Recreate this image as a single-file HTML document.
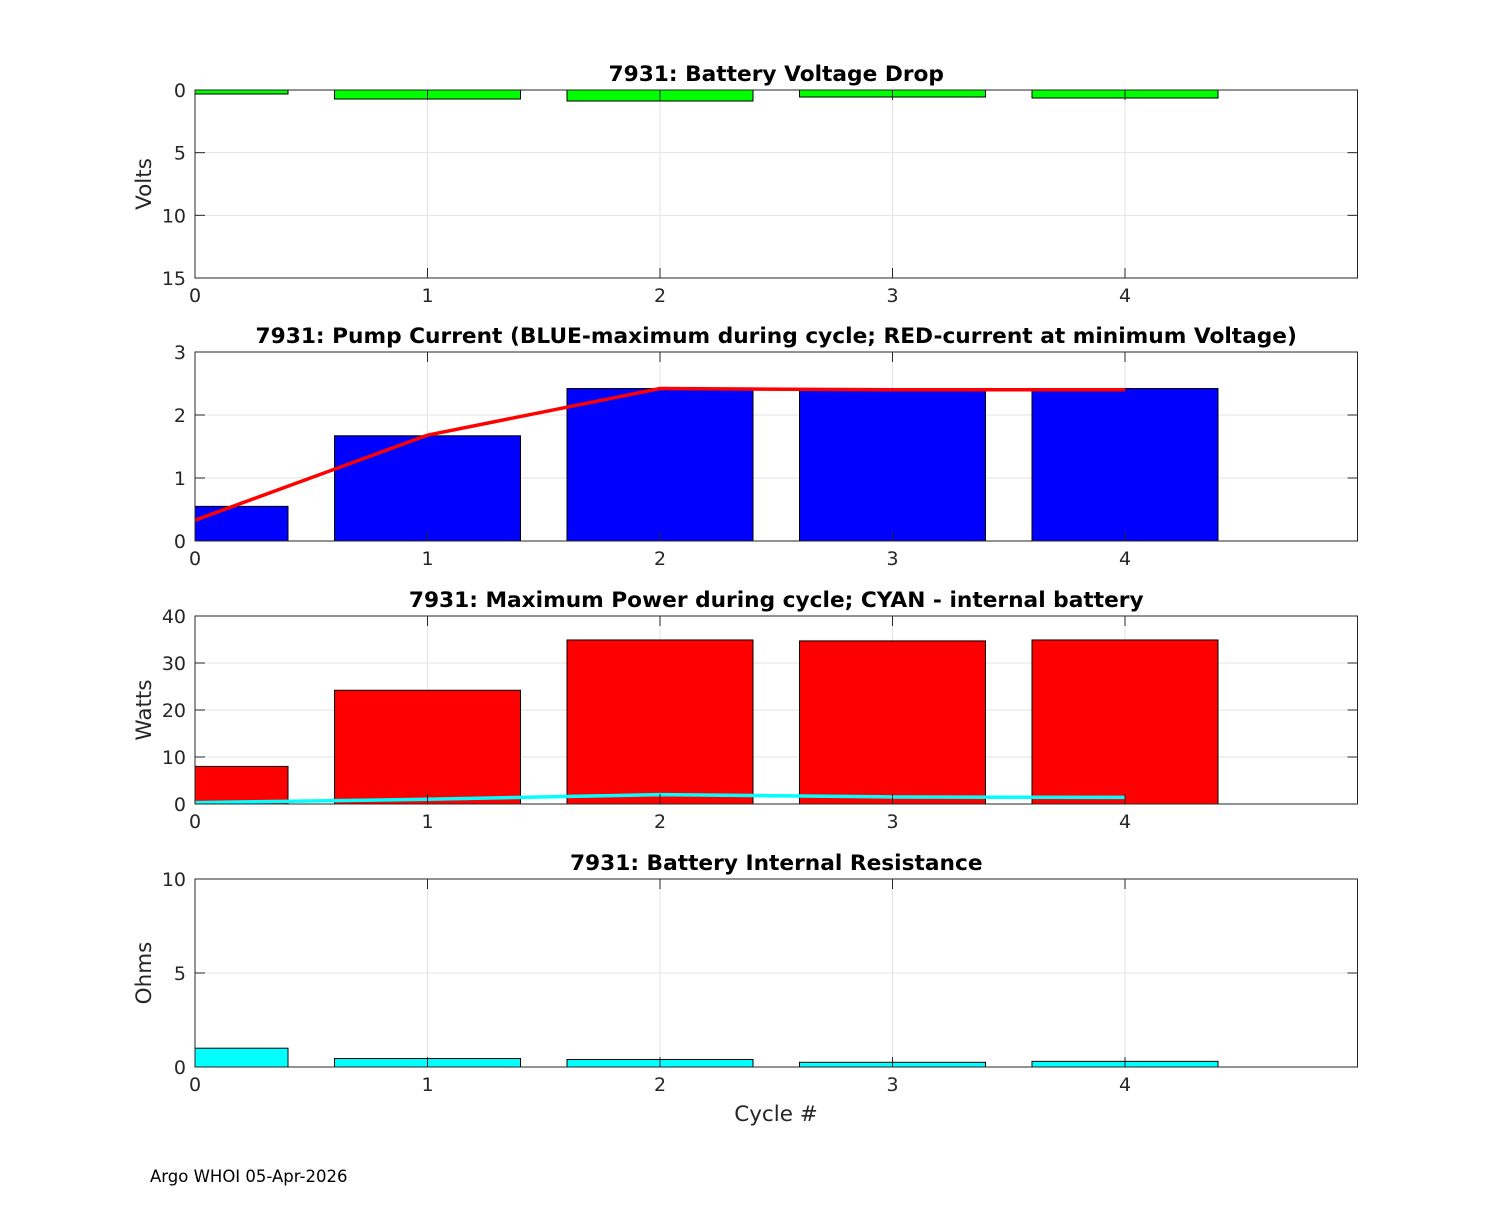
<!DOCTYPE html>
<html><head><meta charset="utf-8"><style>
body{margin:0;background:#fff;width:1500px;height:1200px;overflow:hidden}
text{font-family:"DejaVu Sans","Liberation Sans",sans-serif}
</style></head><body>
<svg id="fig" width="1500" height="1200" xmlns="http://www.w3.org/2000/svg">
<rect width="1500" height="1200" fill="#fff"/>
</svg>
<script>
const cycles=[0,1,2,3,4];
const voltDrop=[0.32,0.72,0.88,0.56,0.64];
const pumpMax=[0.55,1.67,2.42,2.4,2.42];
const pumpAtMinV=[0.33,1.68,2.42,2.4,2.4];
const maxPower=[8.0,24.2,34.9,34.7,34.9];
const internalPower=[0.3,1.0,2.0,1.5,1.4];
const resistance=[1.0,0.45,0.4,0.25,0.3];
const xTicks=[0,1,2,3,4];
const voltTicks=[0,5,10,15];
const pumpTicks=[0,1,2,3];
const powerTicks=[0,10,20,30,40];
const ohmTicks=[0,5,10];

const NS="http://www.w3.org/2000/svg";
const svg=document.getElementById('fig');
function el(tag,attrs,parent){const e=document.createElementNS(NS,tag);for(const k in attrs)e.setAttribute(k,attrs[k]);(parent||svg).appendChild(e);return e;}
const X0=195,X1=1357.5,XMIN=0,XMAX=5;
const sx=v=>X0+(v-XMIN)/(XMAX-XMIN)*(X1-X0);

function panel(o){
  const g=el('g',{});
  
  
  const sy=v=>o.rev? o.top+(v-o.min)/(o.max-o.min)*(o.bot-o.top) : o.bot-(v-o.min)/(o.max-o.min)*(o.bot-o.top);
  xTicks.forEach(t=>{const l=el('line',{x1:sx(t),x2:sx(t),y1:o.top,y2:o.bot,stroke:'#e3e3e3','stroke-width':1},g);});
  o.ticks.forEach(t=>{const l=el('line',{x1:X0,x2:X1,y1:sy(t),y2:sy(t),stroke:'#e3e3e3','stroke-width':1},g);});
  const clip=el('clipPath',{id:'c'+o.name},g);el('rect',{x:X0,y:o.top,width:X1-X0,height:o.bot-o.top},clip);
  const bg=el('g',{'clip-path':'url(#c'+o.name+')'},g);
  cycles.forEach((c,i)=>{
    const base=sy(0),v=sy(o.vals[i]);
    const r=el('rect',{x:sx(c-0.4),width:sx(c+0.4)-sx(c-0.4),y:Math.min(base,v),height:Math.abs(v-base),fill:o.color,stroke:'#000','stroke-width':1},bg);
    
    
  });
  if(o.line){
    const p=el('polyline',{points:cycles.map((c,i)=>sx(c)+','+sy(o.line[i])).join(' '),fill:'none',stroke:o.lineColor,'stroke-width':3.5},bg);
    
    
  }
  el('rect',{x:X0,y:o.top,width:X1-X0,height:o.bot-o.top,fill:'none',stroke:'#262626','stroke-width':1},g);
  xTicks.forEach(t=>{
    el('line',{x1:sx(t),x2:sx(t),y1:o.bot,y2:o.bot-10,stroke:'#262626'},g);
    el('line',{x1:sx(t),x2:sx(t),y1:o.top,y2:o.top+10,stroke:'#262626'},g);
    const tx=el('text',{x:sx(t),y:o.bot+24,'text-anchor':'middle','font-size':19,fill:'#262626'},g);tx.textContent=t;
    
  });
  o.ticks.forEach(t=>{
    el('line',{x1:X0,x2:X0+10,y1:sy(t),y2:sy(t),stroke:'#262626'},g);
    el('line',{x1:X1,x2:X1-10,y1:sy(t),y2:sy(t),stroke:'#262626'},g);
    const tx=el('text',{x:X0-9,y:sy(t)+7,'text-anchor':'end','font-size':19,fill:'#262626'},g);tx.textContent=t;
    
  });
  const ti=el('text',{x:(X0+X1)/2,y:o.top-9,'text-anchor':'middle','font-size':21.7,'font-weight':'bold',fill:'#000'},g);ti.textContent=o.title;
  
  if(o.ylabel){const yl=el('text',{x:0,y:0,transform:`translate(151,${(o.top+o.bot)/2}) rotate(-90)`,'text-anchor':'middle','font-size':21.5,fill:'#262626'},g);yl.textContent=o.ylabel;
  }
}
panel({name:'voltage-drop-panel',top:90,bot:278,min:0,max:15,rev:true,ticks:voltTicks,vals:voltDrop,color:'#00ff00',title:'7931: Battery Voltage Drop',ylabel:'Volts'});
panel({name:'pump-current-panel',top:352,bot:541,min:0,max:3,ticks:pumpTicks,vals:pumpMax,color:'#0000ff',line:pumpAtMinV,lineColor:'#ff0000',lineName:'current-at-min-voltage-line',title:'7931: Pump Current (BLUE-maximum during cycle; RED-current at minimum Voltage)'});
panel({name:'max-power-panel',top:616,bot:804,min:0,max:40,ticks:powerTicks,vals:maxPower,color:'#ff0000',line:internalPower,lineColor:'#00ffff',lineName:'internal-battery-power-line',title:'7931: Maximum Power during cycle; CYAN - internal battery',ylabel:'Watts'});
panel({name:'resistance-panel',top:879,bot:1067,min:0,max:10,ticks:ohmTicks,vals:resistance,color:'#00ffff',title:'7931: Battery Internal Resistance',ylabel:'Ohms'});
const xl=el('text',{x:776,y:1121,'text-anchor':'middle','font-size':21.5,fill:'#262626'});xl.textContent='Cycle #';

const ft=el('text',{x:150,y:1182,'font-size':16.5,fill:'#000'});ft.textContent='Argo WHOI 05-Apr-2026';

</script>
</body></html>
